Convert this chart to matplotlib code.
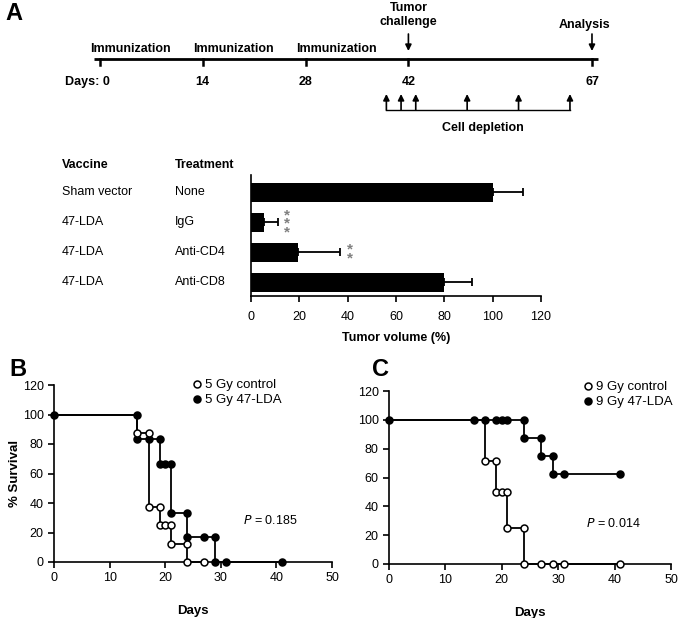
import matplotlib
matplotlib.use("Agg")
import matplotlib.pyplot as plt
from matplotlib import font_manager
from matplotlib.lines import Line2D
from matplotlib.transforms import blended_transform_factory

# ---------------- data ----------------
# panel A, timeline
timeline_days = [0, 14, 28, 42, 67]
immunization_days = [0, 14, 28]
challenge_day = 42
analysis_day = 67
depletion_days = [39, 41, 43, 50, 57, 64]

# panel A, tumor volume bars
vaccines = ["Sham vector", "47-LDA", "47-LDA", "47-LDA"]
treatments = ["None", "IgG", "Anti-CD4", "Anti-CD8"]
tumor_volume = [100, 5.5, 19.5, 80]
tumor_err = [12.5, 5.5, 17.5, 11.5]
signif = ["", "***", "**", ""]
vol_ticks = [0, 20, 40, 60, 80, 100, 120]

# panel B, 5 Gy survival (step curve + marker points)
b_ctrl_step_x = [0, 15, 17, 19, 21, 24, 27]
b_ctrl_step_y = [100, 87.5, 37.5, 25, 12.5, 0, 0]
b_ctrl_pts_x = [15, 17, 17, 19, 19, 20, 21, 21, 24, 24, 27]
b_ctrl_pts_y = [87.5, 87.5, 37.5, 37.5, 25, 25, 25, 12.5, 12.5, 0, 0]
b_lda_step_x = [0, 15, 19, 21, 24, 29, 41]
b_lda_step_y = [100, 83.3, 66.7, 33.3, 16.7, 0, 0]
b_lda_pts_x = [0, 15, 15, 17, 19, 19, 20, 21, 21, 24, 24, 27, 29, 29, 31, 41]
b_lda_pts_y = [100, 100, 83.3, 83.3, 83.3, 66.7, 66.7, 66.7, 33.3, 33.3,
               16.7, 16.7, 16.7, 0, 0, 0]

# panel C, 9 Gy survival
c_ctrl_step_x = [0, 17, 19, 21, 24, 41]
c_ctrl_step_y = [100, 71.4, 50, 25, 0, 0]
c_ctrl_pts_x = [17, 19, 19, 20, 21, 21, 24, 24, 27, 29, 31, 41]
c_ctrl_pts_y = [71.4, 71.4, 50, 50, 50, 25, 25, 0, 0, 0, 0, 0]
c_lda_step_x = [0, 24, 27, 29, 41]
c_lda_step_y = [100, 87.5, 75, 62.5, 62.5]
c_lda_pts_x = [0, 15, 17, 19, 20, 21, 24, 24, 27, 27, 29, 29, 31, 41]
c_lda_pts_y = [100, 100, 100, 100, 100, 100, 100, 87.5, 87.5, 75, 75,
               62.5, 62.5, 62.5]

surv_xticks = [0, 10, 20, 30, 40, 50]
surv_yticks = [0, 20, 40, 60, 80, 100, 120]

# ---------------- fonts ----------------
names = {f.name for f in font_manager.fontManager.ttflist}
narrow = "Liberation Sans Narrow" if "Liberation Sans Narrow" in names else "Liberation Sans"
plt.rcParams['font.family'] = ['Liberation Sans', 'DejaVu Sans']
plt.rcParams['font.size'] = 9
FS_A = 9  # panel A labels

W, H = 682, 618
fig = plt.figure(figsize=(W / 100, H / 100), dpi=100)

# ---------------- panel A timeline ----------------
PX0, PXD = 100, 7.343          # pixel of day 0, pixels per day


def d(px):
    return (px - PX0) / PXD


ax_t = fig.add_axes([0, 1 - 140 / H, 1, 140 / H])
ax_t.set_xlim(d(0), d(W))
ax_t.set_ylim(140, 0)
ax_t.axis('off')

bold = dict(fontweight='bold', family=narrow, fontsize=FS_A)
ax_t.plot([d(94), d(598)], [59, 59], color='black', lw=2, solid_capstyle='butt')
for day in timeline_days:
    ax_t.plot([day, day], [59, 65], color='black', lw=1.8)
    if day == 0:
        ax_t.text(d(110), 82, "Days: 0", ha='right', va='center', **bold)
    else:
        ax_t.text(day, 82, str(day), ha='center', va='center', **bold)

for day in immunization_days:
    ax_t.text(day - 1.3, 49, "Immunization", ha='left', va='center', **bold)

arrow = dict(arrowstyle='-|>', color='black', lw=1.2, mutation_scale=9, shrinkA=0, shrinkB=0)
ax_t.text(challenge_day, 8, "Tumor", ha='center', va='center', **bold)
ax_t.text(challenge_day, 22, "challenge", ha='center', va='center', **bold)
ax_t.annotate("", xy=(challenge_day, 51), xytext=(challenge_day, 34), arrowprops=arrow)
ax_t.text(analysis_day - 1, 25, "Analysis", ha='center', va='center', **bold)
ax_t.annotate("", xy=(analysis_day, 51), xytext=(analysis_day, 34), arrowprops=arrow)

for day in depletion_days:
    ax_t.annotate("", xy=(day, 94), xytext=(day, 110), arrowprops=arrow)
ax_t.plot([depletion_days[0], depletion_days[-1]], [110, 110], color='black', lw=1)
ax_t.text(52.2, 128, "Cell depletion", ha='center', va='center', **bold)

fig.text(5 / W, 1 - 13 / H, "A", fontsize=17, fontweight='bold', va='center', ha='left')

# ---------------- panel A bars ----------------
ax_b = fig.add_axes([251 / W, 1 - 296 / H, 290 / W, 121 / H])
rows = list(range(len(treatments)))
ax_b.barh(rows, tumor_volume, height=0.63, color='black')
ax_b.errorbar(tumor_volume, rows, xerr=[[0] * len(rows), tumor_err], fmt='none',
              ecolor='black', elinewidth=1.3, capsize=3, capthick=1.3)
ax_b.set_xlim(0, 120)
ax_b.set_ylim(3.45, -0.57)
ax_b.set_xticks(vol_ticks)
ax_b.set_yticks([])
ax_b.spines['top'].set_visible(False)
ax_b.spines['right'].set_visible(False)
ax_b.spines['left'].set_linewidth(1.2)
ax_b.spines['bottom'].set_linewidth(1.2)
ax_b.tick_params(axis='x', direction='out', length=4, width=1.2, labelsize=9, pad=7)
ax_b.set_xlabel("Tumor volume (%)", labelpad=6, **bold)

trans = blended_transform_factory(fig.transFigure, ax_b.transData)
ax_b.text(62 / W, -0.9, "Vaccine", transform=trans, va='center', **bold)
ax_b.text(175 / W, -0.9, "Treatment", transform=trans, va='center', **bold)
for i in rows:
    ax_b.text(62 / W, i, vaccines[i], transform=trans, va='center', family=narrow, fontsize=FS_A)
    ax_b.text(175 / W, i, treatments[i], transform=trans, va='center', family=narrow, fontsize=FS_A)
    if signif[i]:
        ax_b.text(tumor_volume[i] + tumor_err[i] + 4, i + 0.05, "\n".join(signif[i]),
                  ha='center', va='center', color='#808080', fontsize=11,
                  fontweight='bold', linespacing=0.5)


# ---------------- panels B and C ----------------
def survival(ax, ctrl, lda, ctrl_label, lda_label, pval, leg_anchor, p_x):
    cx, cy, cpx, cpy = ctrl
    lx, ly, lpx, lpy = lda
    ax.plot(lx, ly, drawstyle='steps-post', color='black', lw=1.3, clip_on=False, zorder=2)
    ax.plot(cx, cy, drawstyle='steps-post', color='black', lw=1.3, clip_on=False, zorder=2)
    ax.plot(lpx, lpy, 'o', color='black', ms=5, mec='black', mew=1.1, clip_on=False, zorder=3)
    ax.plot(cpx, cpy, 'o', color='white', ms=5, mec='black', mew=1.1, clip_on=False, zorder=4)
    ax.set_xlim(0, 50)
    ax.set_ylim(0, 120)
    ax.set_xticks(surv_xticks)
    ax.set_yticks(surv_yticks)
    for s in ['top', 'right']:
        ax.spines[s].set_visible(False)
    for s in ['left', 'bottom']:
        ax.spines[s].set_linewidth(1.2)
    ax.tick_params(direction='out', length=4, width=1.2, labelsize=9)
    ax.set_xlabel("Days", fontweight='bold', fontsize=9.5, labelpad=15)
    handles = [Line2D([], [], ls='none', marker='o', color='white', mec='black', ms=5, mew=1.1),
               Line2D([], [], ls='none', marker='o', color='black', mec='black', ms=5, mew=1.1)]
    ax.legend(handles, [ctrl_label, lda_label], loc='upper left', bbox_to_anchor=leg_anchor,
              frameon=False, handlelength=0.6, handletextpad=0.3, borderpad=0,
              labelspacing=0.2, fontsize=9.5)
    ax.text(p_x, 28, "$P$ = " + pval, fontsize=9, va='center')


ax_B = fig.add_axes([54 / W, 1 - 562 / H, 278 / W, 177 / H])
survival(ax_B, (b_ctrl_step_x, b_ctrl_step_y, b_ctrl_pts_x, b_ctrl_pts_y),
         (b_lda_step_x, b_lda_step_y, b_lda_pts_x, b_lda_pts_y),
         "5 Gy control", "5 Gy 47-LDA", "0.185", (0.478, 1.07), 34)
ax_B.set_ylabel("% Survival", fontweight='bold', fontsize=9.5, labelpad=1)
fig.text(9 / W, 1 - 370 / H, "B", fontsize=17, fontweight='bold', va='center', ha='left')

ax_C = fig.add_axes([389 / W, 1 - 564 / H, 282 / W, 173 / H])
survival(ax_C, (c_ctrl_step_x, c_ctrl_step_y, c_ctrl_pts_x, c_ctrl_pts_y),
         (c_lda_step_x, c_lda_step_y, c_lda_pts_x, c_lda_pts_y),
         "9 Gy control", "9 Gy 47-LDA", "0.014", (0.668, 1.095), 34.9)
fig.text(372 / W, 1 - 369 / H, "C", fontsize=17, fontweight='bold', va='center', ha='left')

fig.savefig("out.png", dpi=100)
